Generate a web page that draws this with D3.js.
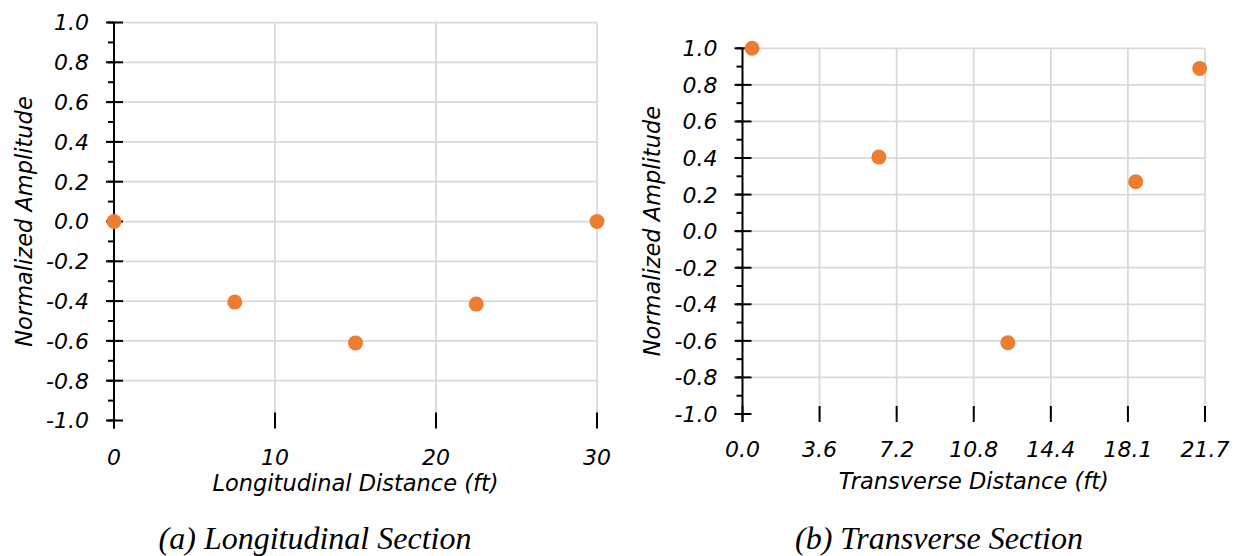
<!DOCTYPE html>
<html><head><meta charset="utf-8">
<script src="https://cdn.jsdelivr.net/npm/d3@7"></script>
<style>
html,body{margin:0;padding:0;background:#fff;}
svg{display:block;}
.tick-label{font-family:"DejaVu Sans",sans-serif;font-style:oblique;font-size:22px;fill:#000;}
.axis-title{font-family:"DejaVu Sans",sans-serif;font-style:oblique;font-size:22.5px;fill:#000;}
.caption{font-family:"Liberation Serif","Times New Roman",serif;font-style:italic;font-size:32px;fill:#000;}
</style>
</head><body>
<script>
// ---- data ----
const longX = [0, 7.5, 15, 22.5, 30];
const longY = [0, -0.405, -0.61, -0.415, 0];
const transX = [0.45, 6.4, 12.45, 18.45, 21.45];
const transY = [1.0, 0.405, -0.61, 0.27, 0.89];
const yTicks = [-1.0, -0.8, -0.6, -0.4, -0.2, 0.0, 0.2, 0.4, 0.6, 0.8, 1.0];
const longXTicks = [0, 10, 20, 30];
const transXTickLabels = ["0.0", "3.6", "7.2", "10.8", "14.4", "18.1", "21.7"];
const transXMax = 21.7;
const longTitle = "Longitudinal Distance (ft)";
const transTitle = "Transverse Distance (ft)";
const yTitle = "Normalized Amplitude";
const captions = ["(a) Longitudinal Section", "(b) Transverse Section"];

const W = 1238, H = 556;
const svg = d3.select("body").append("svg").attr("width", W).attr("height", H);

function panel(cfg) {
  const g = svg.append("g");
  const x = d3.scaleLinear().domain(cfg.xDomain).range([cfg.left, cfg.right]);
  const y = d3.scaleLinear().domain([-1, 1]).range([cfg.bottom, cfg.top]);
  const minor = d3.range(-10, 11).map(i => i / 10);

  // grid
  g.append("g").selectAll("line.h").data(yTicks.filter(v => v > -1)).join("line")
    .attr("x1", cfg.left).attr("x2", cfg.right)
    .attr("y1", d => y(d)).attr("y2", d => y(d))
    .attr("stroke", "#d9d9d9").attr("stroke-width", 1.75);
  g.append("g").selectAll("line.v").data(cfg.xTickVals.filter(v => v > cfg.xDomain[0])).join("line")
    .attr("x1", d => x(d)).attr("x2", d => x(d))
    .attr("y1", cfg.top).attr("y2", cfg.bottom)
    .attr("stroke", "#d9d9d9").attr("stroke-width", 1.75);

  // y axis
  const yAxis = g.append("g");
  yAxis.append("line").attr("x1", cfg.left).attr("x2", cfg.left)
    .attr("y1", y(1)).attr("y2", y(-1) + 8).attr("stroke", "#000").attr("stroke-width", 2);
  yAxis.selectAll("line.mi").data(minor).join("line")
    .attr("x1", cfg.left - 6).attr("x2", cfg.left)
    .attr("y1", d => y(d)).attr("y2", d => y(d)).attr("stroke", "#000").attr("stroke-width", 2);
  yAxis.selectAll("line.ma").data(yTicks).join("line")
    .attr("x1", cfg.left - 8).attr("x2", cfg.left + 9)
    .attr("y1", d => y(d)).attr("y2", d => y(d)).attr("stroke", "#000").attr("stroke-width", 2);
  yAxis.selectAll("text").data(yTicks).join("text").attr("class", "tick-label")
    .attr("x", cfg.left - 25).attr("y", d => y(d)).attr("dy", "0.36em")
    .attr("text-anchor", "end").text(d => d3.format(".1f")(d).replace("−", "-"));

  // x axis
  const xAxis = g.append("g");
  xAxis.append("line").attr("x1", cfg.left - 8).attr("x2", cfg.right)
    .attr("y1", cfg.bottom).attr("y2", cfg.bottom).attr("stroke", "#000").attr("stroke-width", 2);
  xAxis.selectAll("line").data(cfg.xTickVals).join("line")
    .attr("x1", d => x(d)).attr("x2", d => x(d))
    .attr("y1", cfg.bottom - 8).attr("y2", cfg.bottom + 8).attr("stroke", "#000").attr("stroke-width", 2);
  xAxis.selectAll("text").data(cfg.xTickVals).join("text").attr("class", "tick-label")
    .attr("x", d => x(d)).attr("y", cfg.bottom + cfg.xLabelOff)
    .attr("text-anchor", "middle").text((d, i) => cfg.xTickText[i]);

  // titles
  g.append("text").attr("class", "axis-title")
    .attr("x", (cfg.left + cfg.right) / 2).attr("y", cfg.xTitleY)
    .attr("text-anchor", "middle").text(cfg.xTitle);
  g.append("text").attr("class", "axis-title")
    .attr("transform", `translate(${cfg.yTitleX},${y(0)}) rotate(-90)`)
    .attr("text-anchor", "middle").attr("dy", "0.35em").text(yTitle);
  g.append("text").attr("class", "caption")
    .attr("x", cfg.capX).attr("y", 549).attr("text-anchor", "middle").text(cfg.caption);

  // points
  g.append("g").selectAll("circle").data(cfg.xs).join("circle")
    .attr("cx", d => x(d)).attr("cy", (d, i) => y(cfg.ys[i]))
    .attr("r", 7.5).attr("fill", "#ED7D31");
}

panel({
  xDomain: [0, 30], left: 114, right: 597, top: 22.5, bottom: 420.5,
  xTickVals: longXTicks, xTickText: longXTicks.map(String), xLabelOff: 44,
  xTitle: longTitle, xTitleY: 491, yTitleX: 24,
  caption: captions[0], capX: 315, xs: longX, ys: longY
});
panel({
  xDomain: [0, transXMax], left: 742.5, right: 1205, top: 48.3, bottom: 414,
  xTickVals: transXTickLabels.map((_, i) => i * transXMax / 6),
  xTickText: transXTickLabels, xLabelOff: 43,
  xTitle: transTitle, xTitleY: 489, yTitleX: 652,
  caption: captions[1], capX: 939, xs: transX, ys: transY
});
</script>
</body></html>
